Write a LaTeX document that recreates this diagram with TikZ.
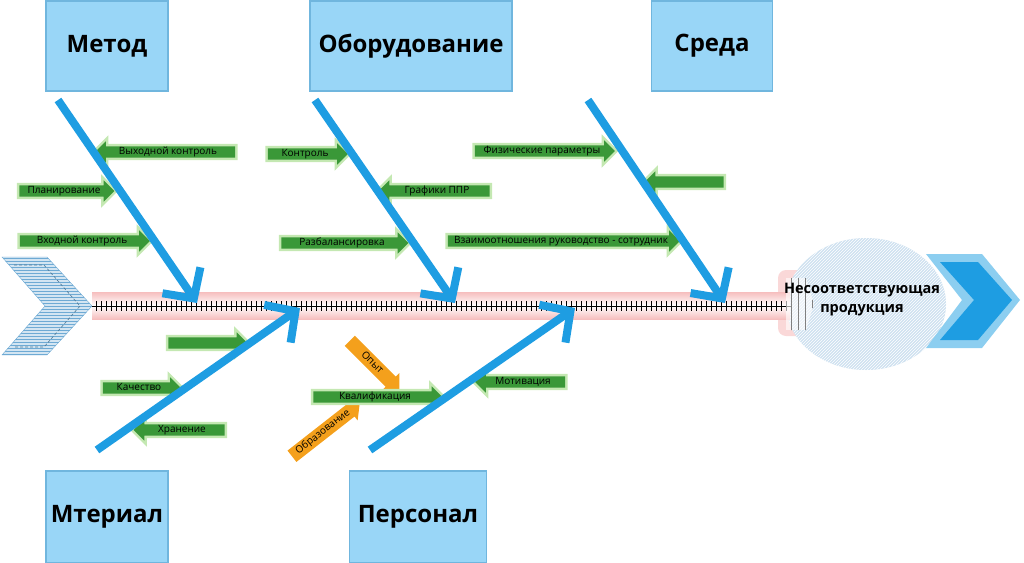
\documentclass[tikz,border=0pt]{standalone}
\usepackage{fontspec}
\setmainfont{Open Sans}
\usetikzlibrary{arrows.meta,shapes.arrows,shapes.geometric,patterns}

\definecolor{boxfill}{RGB}{153,214,247}
\definecolor{boxline}{RGB}{112,182,222}
\definecolor{bonecol}{RGB}{30,157,226}
\definecolor{causecol}{RGB}{58,152,56}
\definecolor{glowcol}{RGB}{196,232,178}
\definecolor{subcol}{RGB}{244,160,28}
\definecolor{spineglow}{RGB}{246,190,190}
\definecolor{hatchcol}{RGB}{110,170,212}
\definecolor{headfill}{RGB}{206,225,240}
\definecolor{chevlight}{RGB}{140,206,240}

\tikzset{
  catbox/.style={draw=boxline, line width=1.5pt, fill=boxfill, inner sep=0pt,
    font=\bfseries\fontsize{24}{28}\selectfont},
  bone/.style={draw=bonecol, line width=8pt,
    -{Straight Barb[length=22pt,width=46pt,sharp]}},
  arrowbase/.style={single arrow, single arrow head extend=5pt, inner xsep=2pt,
    inner ysep=1pt, text height=7pt, text depth=2pt,
    font=\fontsize{10}{12}\selectfont},
  cause/.style={arrowbase, fill=causecol, preaction={draw=glowcol, line width=5pt}},
  causeL/.style={cause, shape border rotate=180},
  subcause/.style={arrowbase, fill=subcol, inner ysep=2.5pt}
}

\begin{document}
\begin{tikzpicture}[x=1pt,y=-1pt]
    \useasboundingbox (0,0) rectangle (1024,562);
    %% spine end glow and head
    \fill[spineglow!60, rounded corners=8pt] (778,270) rectangle (806,336);
    \node[ellipse, minimum width=160pt, minimum height=132pt, inner sep=0pt,
        fill=headfill, postaction={pattern=north east lines, pattern color=white}]
        (effect) at (866,304) {};
    %% right chevron
    \fill[chevlight] (926,254) -- (982,254) -- (1020,300) -- (982,348)
        -- (926,348) -- (962,300) -- cycle;
    \fill[bonecol] (940,262) -- (978,262) -- (1012,300) -- (978,340)
        -- (940,340) -- (974,300) -- cycle;
    %% left chevron
    \fill[hatchcol!30] (2,257) -- (47,257) -- (92,306) -- (47,355)
        -- (2,355) -- (45,306) -- cycle;
    \draw[draw=hatchcol, pattern=horizontal lines, pattern color=hatchcol]
        (2,257) -- (47,257) -- (92,306) -- (47,355) -- (2,355) -- (45,306) -- cycle;
    \draw[hatchcol!70!black, densely dashed, line width=0.6pt]
        (14,265) -- (44,265) -- (80,306) -- (44,347) -- (14,347);
    %% spine
    \coordinate (tail) at (92,306);
    \coordinate (head) at (792,306);
    \shade[top color=spineglow, bottom color=spineglow, middle color=white]
        (92,292) rectangle (790,319);
    \draw[line width=0.6pt] (tail) -- (head);
    \foreach \x in {96,101,...,786}
        \draw[line width=0.5pt] (\x,301) -- (\x,311);
    \begin{scope}
        \clip (786,278) -- (806,278) -- (814,304) -- (806,330) -- (786,330) -- cycle;
        \fill[white, opacity=0.6] (786,278) rectangle (814,330);
        \draw[gray, line width=0.5pt] (782,274) grid[step=7] (816,334);
    \end{scope}
    \node[align=center, font=\bfseries\fontsize{14.5}{19}\selectfont]
        (effectlabel) at (862,300) {Несоответствующая\\продукция};
    %% categories
    \node[catbox, minimum width=122pt, minimum height=90pt] (metod) at (107,46) {Метод};
    \node[catbox, minimum width=202pt, minimum height=90pt] (oborud) at (411,46) {Оборудование};
    \node[catbox, minimum width=121pt, minimum height=90pt] (sreda) at (712,46) {Среда};
    \node[catbox, minimum width=122pt, minimum height=92pt] (mater) at (107,517) {Мтериал};
    \node[catbox, minimum width=137pt, minimum height=92pt] (person) at (418,517) {Персонал};
    %% causes
    \node[causeL, minimum height=140pt] (vyh) at (168,152) {Выходной контроль};
    \node[cause, minimum height=95pt] (plan) at (64,191) {Планирование};
    \node[cause, minimum height=130pt] (vhod) at (82,241) {Входной контроль};
    \node[cause, minimum height=80pt] (kontr) at (305,154) {Контроль};
    \node[causeL, minimum height=111pt] (graf) at (437,191) {Графики ППР};
    \node[cause, minimum height=127pt] (razb) at (342,243) {Разбалансировка};
    \node[cause, minimum height=140pt] (fiz) at (542,151) {Физические параметры};
    \node[causeL, minimum height=79pt] (sreda1) at (687,182) {};
    \node[cause, minimum height=232pt] (vzaim) at (561,241) {Взаимоотношения руководство - сотрудник};
    \node[cause, minimum height=79pt] (mat1) at (205,343) {};
    \node[cause, minimum height=78pt] (kach) at (139,388) {Качество};
    \node[causeL, minimum height=91pt] (hran) at (182,430) {Хранение};
    \node[causeL, minimum height=90pt] (motiv) at (523,382) {Мотивация};
    \node[subcause, minimum height=70pt, rotate=-45] (opyt) at (372,363) {Опыт};
    \node[subcause, minimum height=86pt, rotate=38] (obraz) at (323,432) {Образование};
    \node[cause, minimum height=129pt] (kval) at (375,397) {Квалификация};
    %% bones
    \coordinate (metodS) at (58,100);  \coordinate (metodE) at (197,303);
    \coordinate (oborudS) at (315,100); \coordinate (oborudE) at (455,303);
    \coordinate (sredaS) at (588,100); \coordinate (sredaE) at (725,303);
    \coordinate (materS) at (97,450);  \coordinate (materE) at (300,308);
    \coordinate (personS) at (370,450); \coordinate (personE) at (575,308);
    \draw[bone] (metodS) -- (metodE);
    \draw[bone] (oborudS) -- (oborudE);
    \draw[bone] (sredaS) -- (sredaE);
    \draw[bone] (materS) -- (materE);
    \draw[bone] (personS) -- (personE);
\end{tikzpicture}
\end{document}
